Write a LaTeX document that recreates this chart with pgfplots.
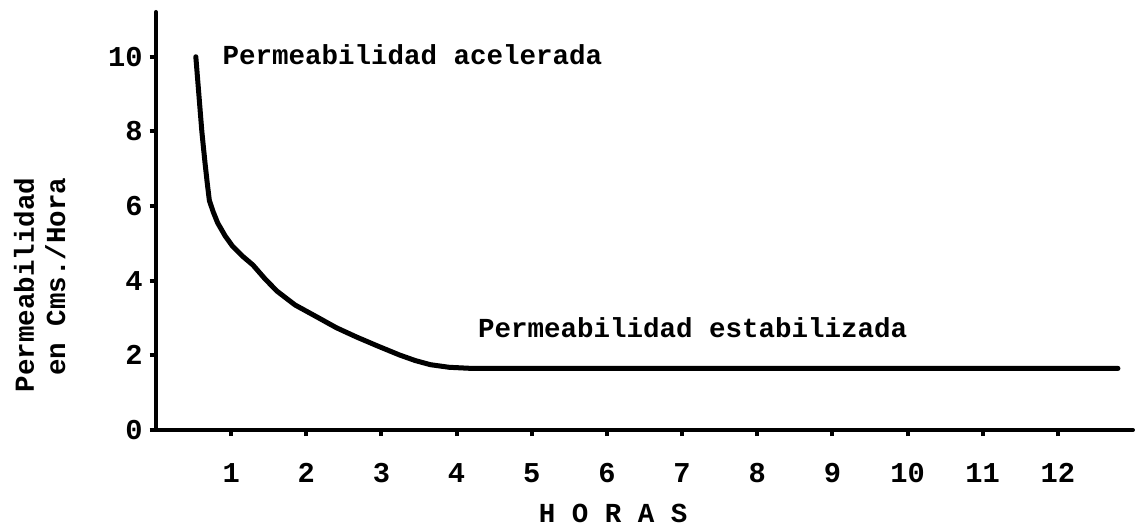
\documentclass[border=0pt]{standalone}
\usepackage{pgfplots}
\pgfplotsset{compat=1.18}
\usepackage{fontspec}
\setmainfont{Liberation Mono}
\begin{document}
\fontsize{11pt}{13pt}\selectfont\bfseries
\begin{tikzpicture}
\begin{axis}[
  scale only axis,
  width=390.8pt, height=167.2pt,
  xmin=0, xmax=13, ymin=0, ymax=11.2,
  axis lines*=left,
  axis line style={line width=1.6pt, line cap=round},
  xtick={1,2,...,12},
  ytick={0,2,4,6,8,10},
  tick align=outside,
  major tick length=2.5pt,
  tick style={line width=1.6pt, black},
  /pgf/number format/assume math mode=true,
  ticklabel style={font=\fontsize{11.5pt}{13pt}\selectfont\bfseries},
  xticklabel style={yshift=-7pt},
  yticklabel style={xshift=1pt},
  xlabel={H O R A S},
  xlabel style={at={(rel axis cs:0.468,-0.20)}, anchor=center, font=\fontsize{11pt}{13pt}\selectfont\bfseries},
  ylabel={Permeabilidad\\en Cms./Hora},
  ylabel style={at={(rel axis cs:-0.119,0.347)}, anchor=center, align=right, font=\fontsize{11pt}{12.5pt}\selectfont\bfseries},
  clip=false,
]
\addplot[black, line width=2pt, line join=round, line cap=round] coordinates {
  (0.53,10.0) (0.57,9.0) (0.61,8.0) (0.65,7.2) (0.68,6.65) (0.71,6.15)
  (0.76,5.85) (0.82,5.55) (0.92,5.2) (1.02,4.92) (1.15,4.66) (1.29,4.42)
  (1.45,4.05) (1.61,3.72) (1.85,3.35) (2.14,3.03) (2.40,2.74) (2.67,2.49)
  (2.95,2.25) (3.24,2.01) (3.45,1.86) (3.65,1.75) (3.9,1.68) (4.2,1.65)
  (12.8,1.65)
};
\node[anchor=west, inner sep=0pt] at (axis cs:0.88,10.05) {Permeabilidad acelerada};
\node[anchor=west, inner sep=0pt] at (axis cs:4.28,2.73) {Permeabilidad estabilizada};
\end{axis}
\pgfresetboundingbox
\path (-62.4pt,-40.8pt) rectangle (393.6pt,172pt);
\end{tikzpicture}
\end{document}
